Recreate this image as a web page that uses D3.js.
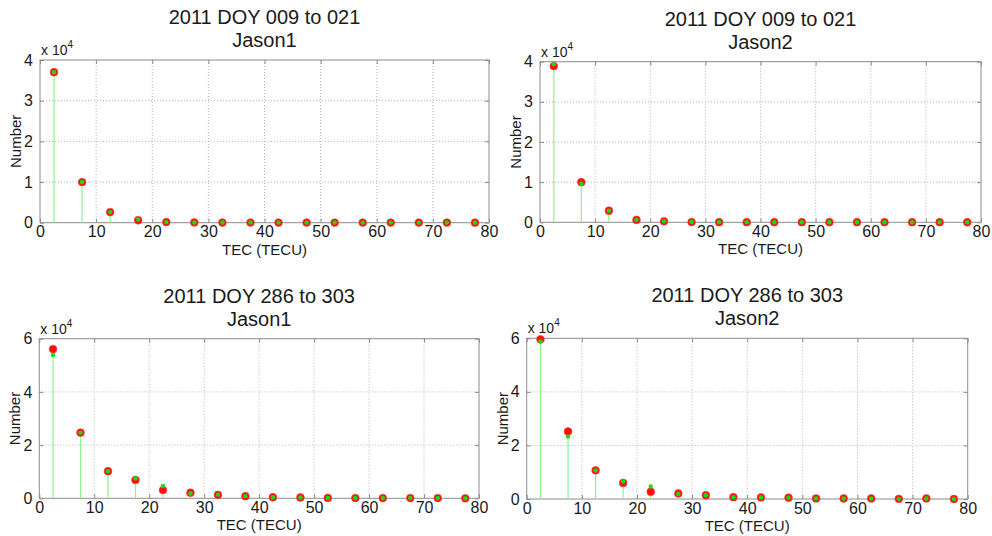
<!DOCTYPE html>
<html>
<head>
<meta charset="utf-8">
<script src="https://cdn.jsdelivr.net/npm/d3@7"></script>
<style>
  body { margin: 0; background: #fff; }
  text { font-family: Arial, "Liberation Sans", sans-serif; fill: #1a1a1a; }
</style>
</head>
<body>
<script>
// TEC bin centres (TECU)
var tecBins = [2.5, 7.5, 12.5, 17.5, 22.5, 27.5, 32.5, 37.5, 42.5, 47.5, 52.5, 57.5, 62.5, 67.5, 72.5, 77.5];
var xTicks = [0, 10, 20, 30, 40, 50, 60, 70, 80];

// counts, in units of 1e4
// 2011 DOY 009-021, Jason1
var early1Red   = [3.70, 1.00, 0.26, 0.06, 0.015, 0.006, 0.004, 0.004, 0.003, 0.003, 0.002, 0.002, 0.002, 0.002, 0.002, 0.001];
var early1Green = [3.70, 1.00, 0.26, 0.08, 0.015, 0.006, 0.004, 0.004, 0.003, 0.003, 0.002, 0.002, 0.002, 0.002, 0.002, 0.001];
// 2011 DOY 009-021, Jason2
var early2Red   = [3.89, 1.00, 0.29, 0.06, 0.025, 0.006, 0.004, 0.004, 0.003, 0.003, 0.002, 0.002, 0.002, 0.002, 0.002, 0.001];
var early2Green = [3.94, 0.96, 0.29, 0.06, 0.025, 0.006, 0.004, 0.004, 0.003, 0.003, 0.002, 0.002, 0.002, 0.002, 0.002, 0.001];
// 2011 DOY 286-303, Jason1
var late1Red    = [5.61, 2.47, 1.02, 0.69, 0.31, 0.21, 0.13, 0.08, 0.04, 0.03, 0.015, 0.01, 0.01, 0.01, 0.01, 0.0];
var late1Green  = [5.39, 2.47, 1.02, 0.75, 0.46, 0.18, 0.14, 0.08, 0.04, 0.03, 0.015, 0.01, 0.01, 0.01, 0.01, 0.0];
// 2011 DOY 286-303, Jason2
var late2Red    = [5.96, 2.52, 1.07, 0.60, 0.27, 0.21, 0.14, 0.07, 0.06, 0.05, 0.02, 0.02, 0.02, 0.005, 0.02, 0.0];
var late2Green  = [5.88, 2.33, 1.07, 0.65, 0.47, 0.19, 0.14, 0.07, 0.06, 0.05, 0.02, 0.02, 0.02, 0.005, 0.02, 0.0];

var titles = [
  ["2011 DOY 009 to 021", "Jason1"],
  ["2011 DOY 009 to 021", "Jason2"],
  ["2011 DOY 286 to 303", "Jason1"],
  ["2011 DOY 286 to 303", "Jason2"]
];
var yMaxes = [4, 4, 6, 6];
var redSeries = [early1Red, early2Red, late1Red, late2Red];
var greenSeries = [early1Green, early2Green, late1Green, late2Green];

// axes boxes in page pixels [left, top, right, bottom]
var boxes = [
  [40, 60, 489, 222.7],
  [540, 61.7, 981, 222.3],
  [39.3, 338.7, 479, 498.3],
  [526.7, 338.3, 967.7, 499]
];

var svg = d3.select("body").append("svg")
  .attr("width", 992).attr("height", 536);

boxes.forEach(function (b, i) {
  var x = d3.scaleLinear().domain([0, 80]).range([b[0], b[2]]);
  var y = d3.scaleLinear().domain([0, yMaxes[i]]).range([b[3], b[1]]);
  var yTicks = d3.range(0, yMaxes[i] + 0.001, yMaxes[i] == 4 ? 1 : 2);
  var g = svg.append("g");

  // grid
  g.selectAll(".gx").data(xTicks.slice(1, -1)).enter().append("line")
    .attr("x1", function (d) { return x(d); }).attr("x2", function (d) { return x(d); })
    .attr("y1", b[1]).attr("y2", b[3])
    .attr("stroke", "#b5b5b5").attr("stroke-width", 1).attr("stroke-dasharray", "1,2");
  g.selectAll(".gy").data(yTicks.slice(1, -1)).enter().append("line")
    .attr("x1", b[0]).attr("x2", b[2])
    .attr("y1", function (d) { return y(d); }).attr("y2", function (d) { return y(d); })
    .attr("stroke", "#b5b5b5").attr("stroke-width", 1).attr("stroke-dasharray", "1,2");

  // frame
  g.append("rect").attr("x", b[0]).attr("y", b[1])
    .attr("width", b[2] - b[0]).attr("height", b[3] - b[1])
    .attr("fill", "none").attr("stroke", "#8c8c8c").attr("stroke-width", 1);

  // axes (ticks pointing inwards, like matlab)
  var xAxis = g.append("g").attr("transform", "translate(0," + b[3] + ")")
    .call(d3.axisBottom(x).tickValues(xTicks).tickSize(-4).tickPadding(6).tickFormat(d3.format("d")));
  var xTop = g.append("g").attr("transform", "translate(0," + b[1] + ")")
    .call(d3.axisTop(x).tickValues(xTicks).tickSize(-4).tickFormat(""));
  var yAxis = g.append("g").attr("transform", "translate(" + b[0] + ",0)")
    .call(d3.axisLeft(y).tickValues(yTicks).tickSize(-4).tickPadding(7).tickFormat(d3.format("d")));
  var yRight = g.append("g").attr("transform", "translate(" + b[2] + ",0)")
    .call(d3.axisRight(y).tickValues(yTicks).tickSize(-4).tickFormat(""));
  [xAxis, xTop, yAxis, yRight].forEach(function (a) {
    a.select(".domain").remove();
    a.selectAll("line").attr("stroke", "#8c8c8c");
    a.selectAll("text").style("font-size", "16px").style("font-family", "Arial, 'Liberation Sans', sans-serif").attr("fill", "#1a1a1a");
  });
  xAxis.selectAll("text").attr("dy", "0.55em");

  // stems (green series)
  g.selectAll(".stem").data(greenSeries[i]).enter().append("line")
    .attr("x1", function (d, j) { return x(tecBins[j]); })
    .attr("x2", function (d, j) { return x(tecBins[j]); })
    .attr("y1", y(0)).attr("y2", function (d) { return y(d); })
    .attr("stroke", "#8cf58c").attr("stroke-width", 1.2);

  // red markers
  g.selectAll(".red").data(redSeries[i]).enter().append("circle")
    .attr("cx", function (d, j) { return x(tecBins[j]); })
    .attr("cy", function (d) { return y(d); })
    .attr("r", 3.9).attr("fill", "#ff1010").attr("stroke", "#ff4040").attr("stroke-width", 0.6);

  // green markers
  g.selectAll(".green").data(greenSeries[i]).enter().append("circle")
    .attr("cx", function (d, j) { return x(tecBins[j]); })
    .attr("cy", function (d) { return y(d); })
    .attr("r", 2.2).attr("fill", "#10e010");

  // titles
  var cx = (b[0] + b[2]) / 2;
  g.append("text").attr("x", cx).attr("y", b[1] - 36).attr("text-anchor", "middle")
    .style("font-size", "20px").text(titles[i][0]);
  g.append("text").attr("x", cx).attr("y", b[1] - 13).attr("text-anchor", "middle")
    .style("font-size", "20px").text(titles[i][1]);

  // exponent label
  var ex = g.append("text").attr("x", b[0] + 1).attr("y", b[1] - 5).style("font-size", "14px");
  ex.append("tspan").text("x 10");
  ex.append("tspan").attr("dy", -7).style("font-size", "10px").text("4");

  // axis labels
  g.append("text").attr("x", cx).attr("y", b[3] + 32).attr("text-anchor", "middle")
    .style("font-size", "15px").text("TEC (TECU)");
  g.append("text")
    .attr("transform", "translate(" + (b[0] - 19) + "," + ((b[1] + b[3]) / 2) + ") rotate(-90)")
    .attr("text-anchor", "middle").style("font-size", "15px").text("Number");
});
</script>
</body>
</html>
